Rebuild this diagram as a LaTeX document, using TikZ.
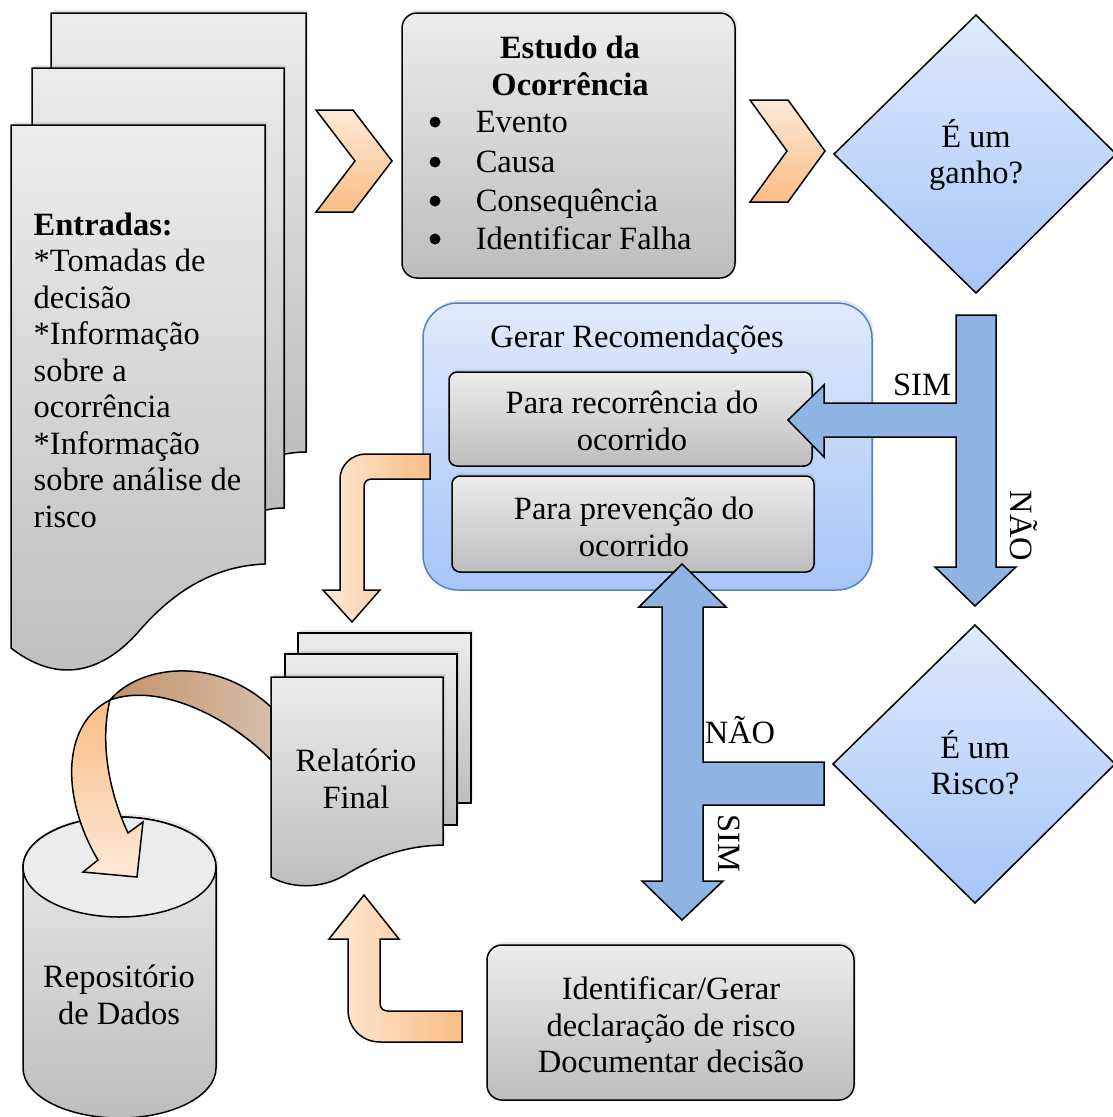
\documentclass[tikz,border=0pt]{standalone}
\usepackage{fontspec}
\setmainfont{Liberation Serif}
\usetikzlibrary{shadows}

\definecolor{boxtop}{RGB}{236,236,236}
\definecolor{boxbot}{RGB}{189,189,189}
\definecolor{bluetop}{RGB}{223,234,252}
\definecolor{bluebot}{RGB}{166,197,248}
\definecolor{blueline}{RGB}{84,132,192}
\definecolor{bluearrow}{RGB}{141,180,226}
\definecolor{orangelight}{RGB}{253,233,216}
\definecolor{orangedark}{RGB}{251,189,132}
\definecolor{brownleft}{RGB}{196,146,104}
\definecolor{brownright}{RGB}{214,190,170}

\tikzset{every picture/.style={line width=1.5pt}}
\tikzset{
  grayshape/.style={top color=boxtop, bottom color=boxbot, drop shadow={opacity=0.2, shadow xshift=2pt, shadow yshift=3pt}},
  blueshape/.style={top color=bluetop, bottom color=bluebot},
  orangeshape/.style={top color=orangelight, bottom color=orangedark},
  bluearrowshape/.style={fill=bluearrow},
  txt/.style={inner sep=0pt, align=center},
}

\begin{document}
\begin{tikzpicture}[x=1pt,y=1pt,yscale=-1,xscale=1,font=\fontsize{32.5}{36.5}\selectfont]
\useasboundingbox (0,0) rectangle (1113,1117);

%Shape: Document back page [id:entradas3]
\draw [grayshape] (51,13) -- (306,13) -- (306,452) .. controls (298,452) and (290,453) .. (280,455) -- (51,455) -- cycle ;
%Shape: Document middle page [id:entradas2]
\draw [grayshape] (32,68) -- (284,68) -- (284,508) .. controls (276,508) and (270,509) .. (262,511) -- (32,511) -- cycle ;
%Shape: Document front page [id:entradas1]
\draw [grayshape] (11,125) -- (265,125) -- (265,564) .. controls (215,566) and (175,590) .. (140,630) .. controls (110,665) and (65,690) .. (11,648) -- cycle ;

% Text Node
\draw (33,212) node (entradas) [anchor=north west][inner sep=0pt] [align=left] {\textbf{Entradas:}\\*Tomadas de\\decisão\\*Informação\\sobre a\\ocorrência\\*Informação\\sobre análise de\\risco};

%Shape: Chevron [id:chev1]
\draw [orangeshape] (316,110) -- (353,110) -- (392,161) -- (353,212) -- (316,212) -- (355,161) -- cycle ;

%Shape: Rounded Rect [id:estudo]
\draw [grayshape, rounded corners=15] (402,13) rectangle (735,278) ;
% Text Node
\draw (570,66) node (estudotitulo) [txt] {\textbf{Estudo da}\\\textbf{Ocorrência}};
%Shape: Bullets
\fill (435,122) circle (5.5) ;
\fill (435,162) circle (5.5) ;
\fill (435,201) circle (5.5) ;
\fill (435,239) circle (5.5) ;
% Text Node
\draw (475,132) node (evento) [anchor=base west][inner sep=0pt] {Evento};
% Text Node
\draw (475,172) node (causa) [anchor=base west][inner sep=0pt] {Causa};
% Text Node
\draw (475,211) node (consequencia) [anchor=base west][inner sep=0pt] {Consequência};
% Text Node
\draw (475,249) node (falha) [anchor=base west][inner sep=0pt] {Identificar Falha};

%Shape: Chevron [id:chev2]
\draw [orangeshape] (750,100) -- (788,100) -- (825,151) -- (788,202) -- (750,202) -- (787,151) -- cycle ;

%Shape: Diamond [id:ganho]
\draw [blueshape] (976,15) -- (1116,154) -- (976,293) -- (834,154) -- cycle ;
% Text Node
\draw (976,155) node (ganho) [txt] {É um\\ganho?};

%Shape: Rounded Rect [id:gerar]
\draw [blueshape, draw=blueline, rounded corners=35, drop shadow={opacity=0.2, shadow xshift=2pt, shadow yshift=3pt}] (423,303) rectangle (872,590) ;
% Text Node
\draw (637,347) node (gerar) [anchor=base][inner sep=0pt] {Gerar Recomendações};
%Shape: Rounded Rect [id:recorrencia]
\draw [grayshape, rounded corners=8] (449,372) rectangle (812,466) ;
% Text Node
\draw (632,421) node (recorrencia) [txt] {Para recorrência do\\ocorrido};
%Shape: Rounded Rect [id:prevencao]
\draw [grayshape, rounded corners=8] (452,476) rectangle (814,572) ;
% Text Node
\draw (634,527) node (prevencao) [txt] {Para prevenção do\\ocorrido};

%Shape: T Arrow [id:decisaoganho]
\draw [bluearrowshape] (956,315) -- (996,315) -- (996,567) -- (1016,567) -- (975,606) -- (935,567) -- (956,567) -- (956,437) -- (824,437) -- (824,457) -- (788,420) -- (824,385) -- (824,403) -- (956,403) -- cycle ;
% Text Node
\draw (922,395) node (simganho) [anchor=base][inner sep=0pt] {SIM};
% Text Node
\draw (1024,526) node (naoganho) [inner sep=0pt, rotate=-90] {NÃO};

%Shape: Bent Arrow [id:pararelatorio]
\draw [left color=orangelight, right color=orangedark] (430,454) -- (366,454) .. controls (352,454) and (340,465) .. (340,479) -- (340,590) -- (323,590) -- (352,622) -- (380,590) -- (364,590) -- (364,487) .. controls (364,482) and (367,479) .. (372,479) -- (430,479) -- cycle ;

%Shape: Diamond [id:risco]
\draw [blueshape] (975,625) -- (1115,764) -- (975,903) -- (833,764) -- cycle ;
% Text Node
\draw (975,763) node (risco) [txt] {É um\\Risco?};

%Shape: Double Arrow [id:decisaorisco]
\draw [bluearrowshape] (682,564) -- (726,607) -- (703,607) -- (703,762) -- (824,762) -- (824,805) -- (703,805) -- (703,881) -- (723,881) -- (682,920) -- (642,881) -- (662,881) -- (662,607) -- (639,607) -- cycle ;
% Text Node
\draw (740,743) node (naorisco) [anchor=base][inner sep=0pt] {NÃO};
% Text Node
\draw (729,843) node (simrisco) [inner sep=0pt, rotate=-90] {SIM};

%Shape: Can [id:repositorio]
\draw [grayshape] (23,867) -- (23,1068) arc [start angle=180, end angle=0, x radius=96.5, y radius=50] -- (216,867) arc [start angle=0, end angle=-180, x radius=96.5, y radius=50] -- cycle ;
\draw [fill=boxtop] (119.5,867) ellipse [x radius=96.5, y radius=50] ;
% Text Node
\draw (119,995) node (repositorio) [txt] {Repositório\\de Dados};

%Shape: Curved Arrow [id:arquivar]
\draw [left color=brownleft, right color=brownright] (110,700) .. controls (140,665) and (215,655) .. (271,707) -- (271,760) .. controls (230,718) and (160,682) .. (110,700) -- cycle ;
\draw [top color=orangedark, bottom color=orangelight] (110,700) .. controls (60,725) and (62,800) .. (98,860) -- (83,872) -- (137,877) -- (143,822) -- (128,833) .. controls (108,790) and (100,740) .. (110,700) -- cycle ;

%Shape: Document back page [id:relatorio3]
\draw [grayshape] (298,633) -- (471,633) -- (471,803) -- (420,803) -- (298,803) -- cycle ;
%Shape: Document middle page [id:relatorio2]
\draw [grayshape] (285,654) -- (457,654) -- (457,825) -- (285,825) -- cycle ;
%Shape: Document front page [id:relatorio1]
\draw [grayshape] (271,677) -- (443,677) -- (443,845) .. controls (400,846) and (370,860) .. (345,875) .. controls (320,890) and (290,888) .. (271,877) -- cycle ;
% Text Node
\draw (356,779) node (relatorio) [txt] {Relatório\\Final};

%Shape: Bent Arrow [id:pararelatorio2]
\draw [left color=orangelight, right color=orangedark] (462,1011) -- (388,1011) .. controls (383,1011) and (380,1008) .. (380,1003) -- (380,939) -- (399,939) -- (364,895) -- (329,939) -- (348,939) -- (348,1010) .. controls (348,1028) and (362,1042) .. (380,1042) -- (462,1042) -- cycle ;

%Shape: Rounded Rect [id:identificar]
\draw [grayshape, rounded corners=15] (487,945) rectangle (854,1100) ;
% Text Node
\draw (671,1025) node (identificar) [txt] {Identificar/Gerar\\declaração de risco\\Documentar decisão};

\end{tikzpicture}
\end{document}
